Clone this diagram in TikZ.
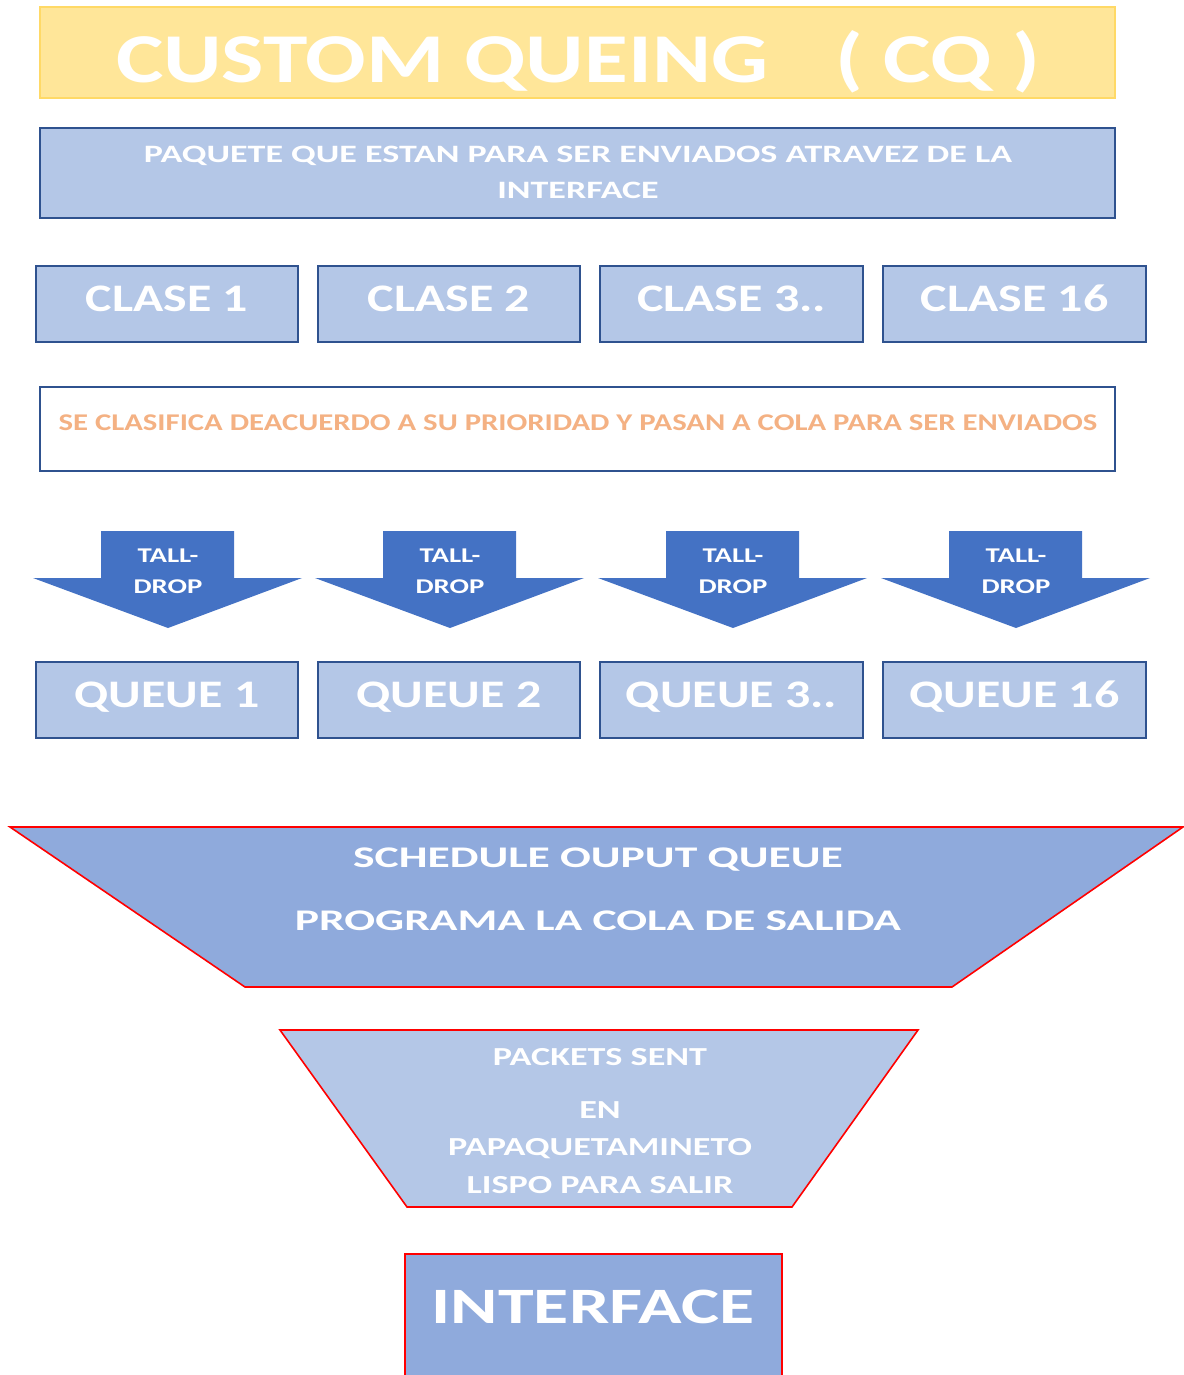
\documentclass[tikz,border=0pt]{standalone}
\usepackage{fontspec}
\setmainfont{Carlito}
\definecolor{titlefill}{HTML}{FFE699}
\definecolor{titleline}{HTML}{FFD966}
\definecolor{lightblue}{HTML}{B4C7E7}
\definecolor{midblue}{HTML}{8FAADC}
\definecolor{darkline}{HTML}{2F528F}
\definecolor{arrowblue}{HTML}{4472C4}
\definecolor{orangetext}{HTML}{F4B183}
% font size #1, horizontal stretch #2, text #3
\newcommand{\wide}[3]{\fontsize{#1}{#1}\selectfont\scalebox{#2}[1]{#3}}
\begin{document}
\begin{tikzpicture}[x=1pt,y=-1pt,
  every node/.style={font=\bfseries, text=white, inner sep=0pt, anchor=base},
  titlebox/.style={fill=titlefill, draw=titleline, line width=1.2pt},
  bluebox/.style={fill=lightblue, draw=darkline, line width=1.8pt},
  whitebox/.style={fill=white, draw=darkline, line width=1.8pt},
  funnel/.style={draw=red, line width=1.6pt, line join=miter},
  droparrow/.style={fill=arrowblue}
]
\useasboundingbox (0,0) rectangle (1183,1375);

% title banner
\draw[titlebox] (40,7) rectangle (1115,98);
\node (title) at (578,83) {\wide{70}{1.28}{CUSTOM QUEING\hspace{0.75em}( CQ )}};

% incoming packets
\draw[bluebox] (40,128) rectangle (1115,218);
\node (paquete1) at (578,163) {\wide{25}{1.44}{PAQUETE QUE ESTAN PARA SER ENVIADOS ATRAVEZ DE LA}};
\node (paquete2) at (578,198) {\wide{25}{1.44}{INTERFACE}};

% classes and queues
\foreach \i/\xa/\xb/\cl/\qu in {1/36/298/CLASE 1/QUEUE 1, 2/318/580/CLASE 2/QUEUE 2,
                                 3/600/863/CLASE 3../QUEUE 3.., 4/883/1146/CLASE 16/QUEUE 16}{
  \draw[bluebox] (\xa,266) rectangle (\xb,342);
  \node (clase\i) at ({(\xa+\xb)/2},311) {\wide{39}{1.28}{\cl}};
  \draw[bluebox] (\xa,662) rectangle (\xb,738);
  \node (queue\i) at ({(\xa+\xb)/2},707) {\wide{39}{1.28}{\qu}};
}

% classification note
\draw[whitebox] (40,387) rectangle (1115,471);
\node[text=orangetext] (clasifica) at (578,430)
  {\wide{24}{1.28}{SE CLASIFICA DEACUERDO A SU PRIORIDAD Y PASAN A COLA PARA SER ENVIADOS}};

% tail-drop arrows
\foreach \i/\cx in {1/168, 2/450, 3/733, 4/1016}{
  \fill[droparrow] (\cx-67,531) -- (\cx+66,531) -- (\cx+66,578) -- (\cx+134,578)
    -- (\cx,628) -- (\cx-135,578) -- (\cx-67,578) -- cycle;
  \node (tall\i) at (\cx,562) {\wide{21}{1.37}{TALL-}};
  \node (drop\i) at (\cx,593) {\wide{21}{1.37}{DROP}};
}

% output scheduler
\draw[funnel, fill=midblue] (10,827) -- (1183,827) -- (952,987) -- (245,987) -- cycle;
\node (schedule) at (598,867) {\wide{30}{1.52}{SCHEDULE OUPUT QUEUE}};
\node (programa) at (598,930) {\wide{30}{1.52}{PROGRAMA LA COLA DE SALIDA}};

% packets sent
\draw[funnel, fill=lightblue] (280,1030) -- (918,1030) -- (792,1207) -- (407,1207) -- cycle;
\node (sent) at (600,1065) {\wide{26}{1.39}{PACKETS SENT}};
\node (en) at (600,1118) {\wide{26}{1.39}{EN}};
\node (papa) at (600,1155) {\wide{26}{1.39}{PAPAQUETAMINETO}};
\node (lispo) at (600,1193) {\wide{26}{1.39}{LISPO PARA SALIR}};

% output interface
\draw[funnel, fill=midblue] (405,1380) -- (405,1254) -- (782,1254) -- (782,1380);
\node (interface) at (593,1323) {\wide{51}{1.41}{INTERFACE}};
\end{tikzpicture}
\end{document}
